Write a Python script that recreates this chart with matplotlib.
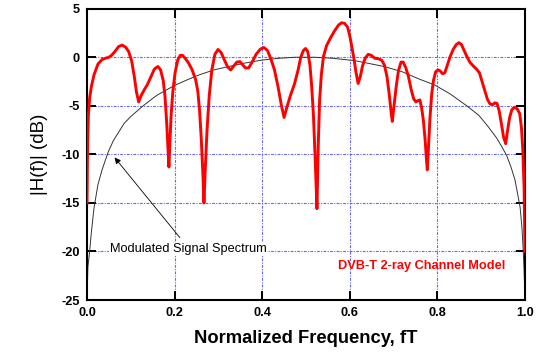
import matplotlib
matplotlib.use('Agg')
import matplotlib.pyplot as plt

plt.rcParams['font.family'] = ['Liberation Sans', 'DejaVu Sans']
plt.rcParams['axes.unicode_minus'] = False

# DVB-T 2-ray channel response (dB)
red_x = [0.000, 0.001, 0.003, 0.006, 0.010, 0.016, 0.025, 0.034, 0.042, 0.050,
         0.056, 0.064, 0.072, 0.080, 0.088, 0.095, 0.102, 0.108, 0.113, 0.118,
         0.123, 0.130, 0.138, 0.146, 0.154, 0.162, 0.168, 0.174, 0.178, 0.182,
         0.185, 0.187, 0.189, 0.192, 0.196, 0.201, 0.207, 0.213, 0.218, 0.224,
         0.232, 0.240, 0.248, 0.253, 0.257, 0.261, 0.265, 0.267, 0.270, 0.274,
         0.279, 0.285, 0.292, 0.299, 0.306, 0.314, 0.321, 0.328, 0.335, 0.342,
         0.349, 0.356, 0.362, 0.369, 0.377, 0.386, 0.396, 0.404, 0.412, 0.420,
         0.428, 0.436, 0.444, 0.450, 0.456, 0.464, 0.474, 0.482, 0.488, 0.494,
         0.499, 0.504, 0.509, 0.513, 0.517, 0.521, 0.525, 0.528, 0.531, 0.535,
         0.540, 0.547, 0.556, 0.565, 0.574, 0.581, 0.588, 0.595, 0.600, 0.604,
         0.609, 0.614, 0.619, 0.624, 0.629, 0.635, 0.642, 0.649, 0.657, 0.665,
         0.673, 0.679, 0.685, 0.690, 0.694, 0.697, 0.701, 0.706, 0.711, 0.717,
         0.722, 0.728, 0.734, 0.740, 0.746, 0.751, 0.756, 0.760, 0.764, 0.768,
         0.772, 0.775, 0.777, 0.780, 0.783, 0.787, 0.791, 0.796, 0.801, 0.806,
         0.812, 0.817, 0.822, 0.829, 0.836, 0.843, 0.849, 0.855, 0.861, 0.867,
         0.874, 0.882, 0.889, 0.896, 0.902, 0.908, 0.914, 0.920, 0.926, 0.931,
         0.936, 0.941, 0.946, 0.951, 0.956, 0.960, 0.965, 0.970, 0.976, 0.982,
         0.988, 0.992, 0.995, 0.998, 1.000]
red_db = [-15.0, -10.0, -6.0, -4.2, -3.0, -1.8, -0.7, -0.25, -0.1, 0.0,
          0.2, 0.6, 1.1, 1.25, 1.05, 0.6, -0.4, -2.0, -3.6, -4.6,
          -4.0, -3.4, -2.8, -2.0, -1.2, -0.95, -1.3, -2.4, -4.0, -6.8,
          -9.5, -11.3, -9.0, -6.0, -3.5, -1.6, -0.3, 0.2, 0.2, -0.1,
          -0.6, -1.3, -2.3, -3.5, -5.5, -8.5, -12.5, -15.0, -11.5, -7.5,
          -4.0, -1.3, 0.3, 0.8, 0.5, -0.3, -1.0, -1.3, -0.9, -0.5,
          -0.45, -0.8, -1.1, -1.1, -0.5, 0.3, 0.85, 1.0, 0.7, -0.2,
          -1.3, -3.0, -5.0, -6.2, -5.2, -4.0, -2.7, -1.3, 0.0, 0.7,
          0.9, 0.6, -0.8, -3.0, -6.0, -10.5, -15.6, -9.0, -4.5, -1.8,
          0.1, 1.2, 2.0, 2.7, 3.3, 3.55, 3.5, 3.1, 2.2, 1.2,
          0.0, -1.5, -2.7, -2.0, -0.9, -0.1, 0.3, 0.2, -0.1, -0.15,
          -0.3, -0.8, -2.0, -3.8, -5.5, -6.6, -5.0, -3.0, -1.4, -0.5,
          -0.5, -1.1, -2.0, -3.3, -4.3, -4.6, -4.45, -4.4, -5.2, -6.5,
          -8.5, -10.5, -11.6, -9.0, -6.3, -3.8, -2.4, -1.5, -1.3, -1.4,
          -1.7, -1.6, -0.9, 0.05, 0.8, 1.3, 1.5, 1.3, 0.7, 0.1,
          -0.5, -0.9, -1.2, -1.6, -2.5, -3.4, -4.3, -4.8, -4.9, -4.7,
          -4.75, -5.5, -6.8, -8.2, -8.9, -7.6, -6.2, -5.4, -5.15, -5.3,
          -5.8, -7.3, -9.5, -13.5, -20.0]

# modulated signal spectrum (dB)
sig_x = [0.000, 0.002, 0.006, 0.010, 0.016, 0.025, 0.035, 0.048, 0.060, 0.071,
         0.085, 0.100, 0.128, 0.160, 0.200, 0.230, 0.257, 0.290, 0.322, 0.360,
         0.398, 0.440, 0.475, 0.520, 0.560, 0.612, 0.680, 0.720, 0.756, 0.794,
         0.830, 0.870, 0.895, 0.916, 0.935, 0.947, 0.958, 0.968, 0.977, 0.985,
         0.989, 0.993, 0.996, 0.998, 1.000]
sig_db = [-25.0, -21.6, -20.0, -18.0, -15.5, -13.1, -11.5, -9.8, -8.6, -7.8,
          -6.8, -6.1, -5.0, -3.9, -2.9, -2.3, -1.8, -1.3, -0.97, -0.6,
          -0.3, -0.1, 0.0, 0.0, -0.1, -0.35, -0.97, -1.5, -2.2, -2.86,
          -3.8, -5.1, -6.0, -7.15, -8.3, -9.2, -10.1, -11.3, -12.6, -14.5,
          -15.5, -17.5, -19.9, -22.0, -25.0]

x_ticks = [0.0, 0.2, 0.4, 0.6, 0.8, 1.0]
y_ticks = [-25, -20, -15, -10, -5, 0, 5]

fig = plt.figure(figsize=(5.48, 3.54), dpi=100)
ax = fig.add_axes([0.1588, 0.1525, 0.7992, 0.8229])

grid_style = dict(color='#6464ff', lw=0.8, linestyle=(0, (2.5, 1.2, 1, 1.2)))
for xv in x_ticks[1:-1]:
    ax.axvline(xv, zorder=0, **grid_style)
for yv in y_ticks[1:-1]:
    ax.axhline(yv, zorder=0, **grid_style)

ax.plot(sig_x, sig_db, color='#333333', lw=0.7, zorder=2)
ax.plot(red_x, red_db, color='#ff0000', lw=2.1, zorder=3, solid_joinstyle='round')

ax.set_xlim(0, 1)
ax.set_ylim(-25, 5)
ax.set_xticks(x_ticks)
ax.set_xticklabels([f'{v:.1f}' for v in x_ticks])
ax.set_yticks(y_ticks)
ax.tick_params(direction='in', length=6.5, width=1.4, top=True, right=True,
               labelsize=9.2, pad=5)
for lab in ax.get_xticklabels() + ax.get_yticklabels():
    lab.set_fontweight('bold')
for sp in ax.spines.values():
    sp.set_linewidth(1.5)

ax.set_xlabel('Normalized Frequency, fT', fontsize=13.2, fontweight='bold', labelpad=8)
ax.set_ylabel('|H(f)| (dB)', fontsize=13.5, labelpad=10)

ax.text(0.052, -19.7, 'Modulated Signal Spectrum', fontsize=9.2, va='center', ha='left',
        bbox=dict(facecolor='white', edgecolor='none', pad=0.5), zorder=4)
ax.annotate('', xy=(0.059, -10.1), xytext=(0.216, -18.8),
            arrowprops=dict(arrowstyle='-|>', color='black', lw=0.6, mutation_scale=9),
            zorder=4)
ax.text(0.573, -21.5, 'DVB-T 2-ray Channel Model', fontsize=9.2, fontweight='bold',
        color='#ff0000', va='center', ha='left')

fig.savefig('out.png', dpi=100)
